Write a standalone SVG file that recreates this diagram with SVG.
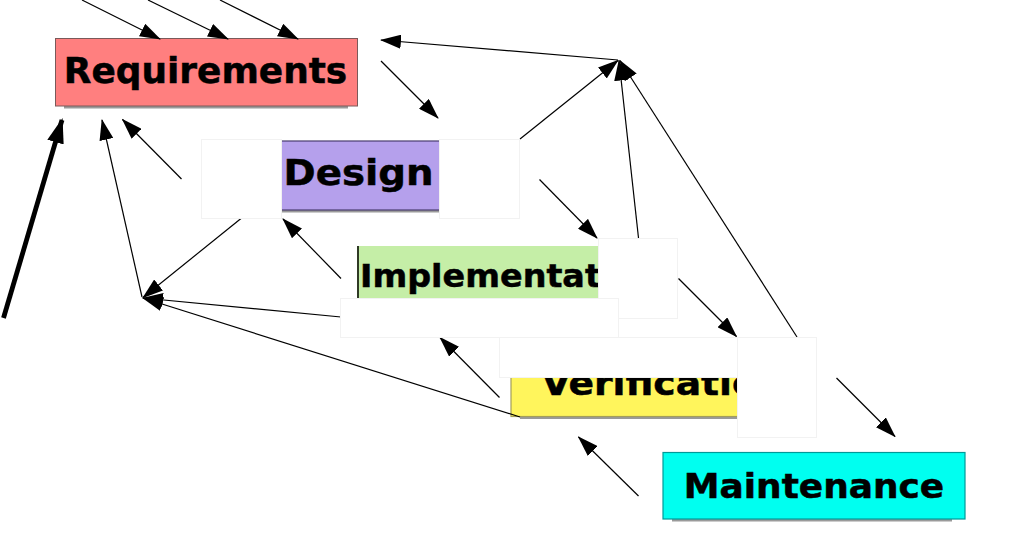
<svg xmlns="http://www.w3.org/2000/svg" width="1015" height="536" viewBox="0 0 1015 536">
<style>
.lbl{font-family:"DejaVu Sans","Liberation Sans",sans-serif;font-weight:bold;fill:#000;stroke:#000;stroke-width:0.5}
.edge{stroke:#000;stroke-width:1.2;fill:none;marker-end:url(#ah)}
.thick{stroke:#000;stroke-width:4.8;fill:none;marker-end:url(#ahb)}
.blank{fill:#fff;stroke:#f2f2f2;stroke-width:1}
.shadow{fill:#9a9a9a}
</style>
<defs>
<marker id="ah" markerUnits="userSpaceOnUse" markerWidth="21" markerHeight="14" refX="20" refY="7" orient="auto" viewBox="0 0 21 14">
<path d="M0,0 L21,7 L0,14 z" fill="#000"/>
</marker>
<marker id="ahb" markerUnits="userSpaceOnUse" markerWidth="25" markerHeight="17" refX="23" refY="8.5" orient="auto" viewBox="0 0 25 17">
<path d="M0,0 L25,8.5 L0,17 z" fill="#000"/>
</marker>
</defs>
<rect width="1015" height="536" fill="#fff"/>

<g id="requirements">
<rect class="shadow" x="64" y="106" width="284" height="2.5"/>
<rect x="55.5" y="38.5" width="302" height="67.5" fill="#ff7f7f" stroke="#7a5a5a" stroke-width="1"/>
<text class="lbl" x="205.5" y="83" font-size="35.7" text-anchor="middle" textLength="283.5" lengthAdjust="spacingAndGlyphs">Requirements</text>
</g>

<g id="design">
<rect class="shadow" x="215" y="210" width="290" height="2.5"/>
<rect x="205.5" y="141" width="310" height="69" fill="#b5a0ec" stroke="#4a3d70" stroke-width="1.2"/>
<text class="lbl" x="358.5" y="185" font-size="35.5" text-anchor="middle" textLength="150" lengthAdjust="spacingAndGlyphs">Design</text>
</g>

<g id="implementation">
<rect x="358" y="246" width="300" height="68" fill="#c5eea7"/>
<line x1="358" y1="246" x2="358" y2="314" stroke="#2f3a25" stroke-width="2"/>
<text class="lbl" x="360" y="286.5" font-size="31.5" textLength="299" lengthAdjust="spacingAndGlyphs">Implementation</text>
</g>

<g id="verification">
<rect class="shadow" x="520" y="416.5" width="290" height="2.5"/>
<rect x="511" y="349" width="302" height="67.5" fill="#fff55c" stroke="#a49e5a" stroke-width="1.2"/>
<text class="lbl" x="541.5" y="395" font-size="34" textLength="243" lengthAdjust="spacingAndGlyphs">Verification</text>
</g>

<g id="maintenance">
<rect class="shadow" x="672" y="519" width="280" height="2.5"/>
<rect x="663" y="452.5" width="302" height="66.5" fill="#00fff0" stroke="#009a98" stroke-width="1.2"/>
<text class="lbl" x="814" y="497.5" font-size="33.5" text-anchor="middle" textLength="260.5" lengthAdjust="spacingAndGlyphs">Maintenance</text>
</g>

<g id="connectors">
<line class="edge" x1="82" y1="0" x2="160" y2="39"/>
<line class="edge" x1="148" y1="0" x2="228" y2="39"/>
<line class="edge" x1="220" y1="0" x2="298" y2="39"/>
<line class="edge" x1="618" y1="60" x2="381" y2="40"/>
<line class="edge" x1="381" y1="61" x2="438" y2="118"/>
<line class="thick" x1="3.5" y1="318" x2="62" y2="120"/>
<line class="edge" x1="142" y1="297" x2="102" y2="120"/>
<line class="edge" x1="181.5" y1="179" x2="122.5" y2="119.5"/>
<line class="edge" x1="241" y1="218.5" x2="143" y2="297.5"/>
<line class="edge" x1="341" y1="317" x2="143" y2="298"/>
<line class="edge" x1="520" y1="417" x2="143" y2="298"/>
<line class="edge" x1="341" y1="278.5" x2="283" y2="219"/>
<line class="edge" x1="539.5" y1="179.5" x2="597" y2="238"/>
<line class="edge" x1="520" y1="139" x2="618" y2="60.5"/>
<line class="edge" x1="638.5" y1="238" x2="619" y2="60.5"/>
<line class="edge" x1="797" y1="337" x2="620" y2="60.5"/>
<line class="edge" x1="678.5" y1="278.5" x2="736.5" y2="336.5"/>
<line class="edge" x1="836.5" y1="378" x2="895" y2="436.5"/>
<line class="edge" x1="638.5" y1="496" x2="578.5" y2="437"/>
<line class="edge" x1="499.5" y1="397.5" x2="440" y2="337.5"/>
</g>

<g id="covers">
<rect class="blank" x="201.5" y="139.5" width="80" height="79"/>
<rect class="blank" x="439.5" y="139.5" width="80" height="79"/>
<rect class="blank" x="598.5" y="238.5" width="79" height="80"/>
<rect class="blank" x="340.5" y="298.5" width="278" height="39"/>
<rect class="blank" x="499.5" y="337.5" width="238" height="40"/>
<rect class="blank" x="737.5" y="337.5" width="79" height="100"/>
</g>
</svg>
